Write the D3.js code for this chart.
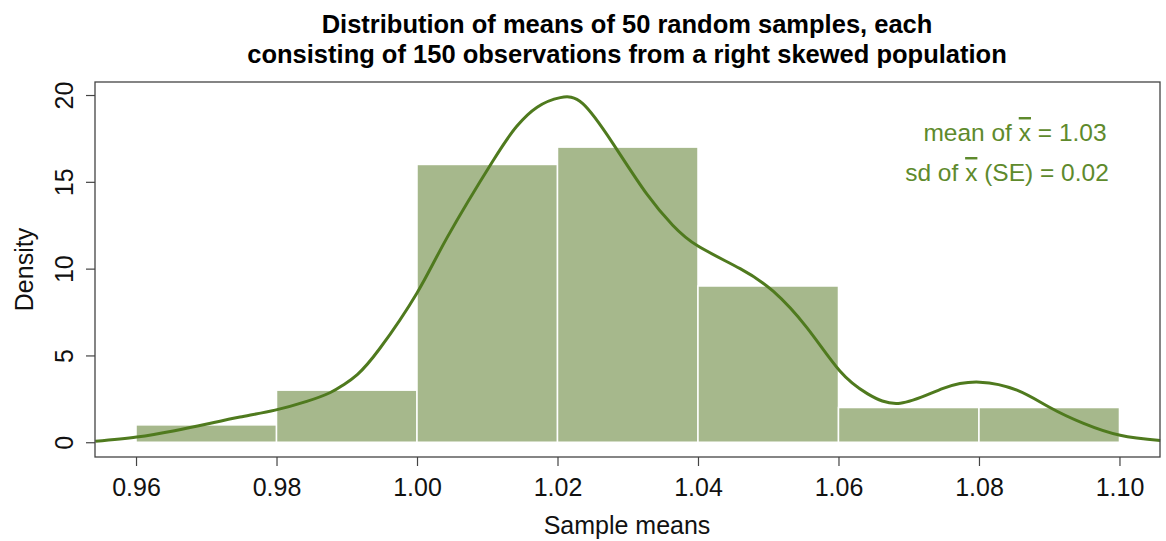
<!DOCTYPE html>
<html>
<head>
<meta charset="utf-8">
<script src="https://cdn.jsdelivr.net/npm/d3@7"></script>
<style>
  body { margin: 0; background: #fff; }
  svg text { font-family: "Liberation Sans", Arial, sans-serif; }
</style>
</head>
<body>
<script>
// histogram bins (width 0.02) and density heights
const binStarts = [0.96, 0.98, 1.00, 1.02, 1.04, 1.06, 1.08],
      binWidth = 0.02,
      binDensity = [1, 3, 16, 17, 9, 2, 2];

// kernel density curve
const kdeX = [0.9542, 0.9601, 0.9653, 0.9701, 0.9748, 0.9798, 0.9843, 0.9876, 0.9895, 0.9915,
              0.9947, 1.0000, 1.0043, 1.0108, 1.0142, 1.0171, 1.0204, 1.0236, 1.0279, 1.0327,
              1.0364, 1.0400, 1.0460, 1.0507, 1.0555, 1.0602, 1.0641, 1.0688, 1.0749, 1.0801,
              1.0854, 1.0901, 1.0948, 1.1001, 1.1058],
      kdeY = [0.05, 0.3, 0.65, 1.05, 1.45, 1.85, 2.35, 2.85, 3.3, 3.9,
              5.4, 8.6, 11.8, 16.2, 18.2, 19.3, 19.85, 19.5, 17.2, 14.3,
              12.5, 11.3, 10.0, 8.7, 6.6, 4.1, 2.8, 2.25, 3.1, 3.46,
              3.0, 2.0, 1.1, 0.4, 0.1];

const xTicks = [0.96, 0.98, 1.00, 1.02, 1.04, 1.06, 1.08, 1.10],
      yTicks = [0, 5, 10, 15, 20];

const width = 1166,
      height = 541,
      box = { left: 95, right: 1160, top: 82, bottom: 457 };

const barFill = '#a6b88c',
      lineColor = '#4f7a1e',
      noteColor = '#5e8a2c',
      inkColor = '#111';

const xScale = d3.scaleLinear()
                 .domain([0.95416, 1.10577])
                 .range([box.left, box.right]),
      yScale = d3.scaleLinear()
                 .domain([-0.85, 20.75])
                 .range([box.bottom, box.top]);

const svg = d3.select('body')
              .append('svg')
              .attr('width', width)
              .attr('height', height);

// title
const title = svg.append('text')
                 .attr('text-anchor', 'middle')
                 .style('font-size', '25.5px')
                 .style('font-weight', 'bold')
                 .attr('fill', '#000');
title.append('tspan').attr('x', 627).attr('y', 33)
     .text('Distribution of means of 50 random samples, each');
title.append('tspan').attr('x', 627).attr('y', 63)
     .text('consisting of 150 observations from a right skewed population');

// bars
svg.append('g')
   .selectAll('rect')
   .data(binStarts)
   .enter()
   .append('rect')
   .attr('x', d => xScale(d))
   .attr('y', (d, i) => yScale(binDensity[i]))
   .attr('width', d => xScale(d + binWidth) - xScale(d))
   .attr('height', (d, i) => yScale(0) - yScale(binDensity[i]))
   .attr('fill', barFill)
   .attr('stroke', '#fff')
   .attr('stroke-width', 1.5);

// density curve
const line = d3.line()
               .x(d => xScale(d[0]))
               .y(d => yScale(d[1]))
               .curve(d3.curveNatural);

svg.append('path')
   .datum(d3.zip(kdeX, kdeY))
   .attr('d', line)
   .attr('fill', 'none')
   .attr('stroke', lineColor)
   .attr('stroke-width', 3);

// box
svg.append('rect')
   .attr('x', box.left)
   .attr('y', box.top)
   .attr('width', box.right - box.left)
   .attr('height', box.bottom - box.top)
   .attr('fill', 'none')
   .attr('stroke', '#444')
   .attr('stroke-width', 1.3);

// axes
const xAxis = svg.append('g')
                 .attr('transform', 'translate(0,' + box.bottom + ')')
                 .call(d3.axisBottom(xScale).tickValues(xTicks).tickFormat(d3.format('.2f')).tickSize(9).tickPadding(12));
xAxis.select('.domain').remove();
xAxis.selectAll('line').attr('stroke', '#444').attr('stroke-width', 1.2);
xAxis.selectAll('text').style('font-size', '25px').attr('fill', inkColor).style('font-family', '"Liberation Sans", Arial, sans-serif');

const yAxis = svg.append('g')
                 .attr('transform', 'translate(' + box.left + ',0)')
                 .call(d3.axisLeft(yScale).tickValues(yTicks).tickSize(9));
yAxis.select('.domain').remove();
yAxis.selectAll('line').attr('stroke', '#444').attr('stroke-width', 1.2);
yAxis.selectAll('text')
     .attr('x', null).attr('dy', null)
     .attr('text-anchor', 'middle')
     .attr('transform', 'translate(-22,0) rotate(-90)')
     .attr('y', 0)
     .style('font-size', '25px')
     .attr('fill', inkColor)
     .style('font-family', '"Liberation Sans", Arial, sans-serif');

// axis titles
svg.append('text')
   .attr('x', 627).attr('y', 534)
   .attr('text-anchor', 'middle')
   .style('font-size', '25px')
   .attr('fill', inkColor)
   .text('Sample means');

svg.append('text')
   .attr('transform', 'translate(33,' + ((box.top + box.bottom) / 2) + ') rotate(-90)')
   .attr('text-anchor', 'middle')
   .style('font-size', '25px')
   .attr('fill', inkColor)
   .text('Density');

// annotation
const note1 = svg.append('text')
                 .attr('x', 1015).attr('y', 141)
                 .attr('text-anchor', 'middle')
                 .style('font-size', '24.5px')
                 .attr('fill', noteColor);
note1.append('tspan').text('mean of  ');
note1.append('tspan').style('text-decoration', 'overline').text('x');
note1.append('tspan').text(' = 1.03');

const note2 = svg.append('text')
                 .attr('x', 1007).attr('y', 181)
                 .attr('text-anchor', 'middle')
                 .style('font-size', '24.5px')
                 .attr('fill', noteColor);
note2.append('tspan').text('sd of  ');
note2.append('tspan').style('text-decoration', 'overline').text('x');
note2.append('tspan').text(' (SE) = 0.02');
</script>
</body>
</html>
